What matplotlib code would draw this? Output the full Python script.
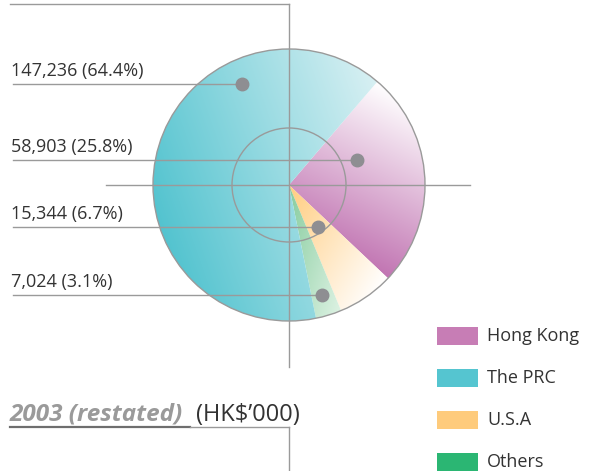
import matplotlib
matplotlib.use('Agg')
import matplotlib.pyplot as plt
from matplotlib.patches import Circle, Rectangle
from matplotlib.colors import to_rgb
import numpy as np

plt.rcParams['font.family'] = ['Open Sans', 'DejaVu Sans']

# data
categories = ['Hong Kong', 'The PRC', 'U.S.A', 'Others']
values = [58903, 147236, 15344, 7024]
legend_colors = ['#C77DB5', '#55C5D0', '#FECB7C', '#2BB673']

# gradient (dark end, light end, direction dark->light in pixel space) for each slice
grad_dark = ['#C174B2', '#52C3CF', '#FFCD80', '#86CC9E']
grad_light = ['#FFFFFF', '#D8F0F3', '#FFFFFF', '#DDF2E3']
grad_dir = [(0.5, -1.0), (1.0, -0.35), (1.0, 0.6), (1.0, 0.3)]

# label order: PRC, Hong Kong, U.S.A, Others
label_order = [1, 0, 2, 3]
label_y = [84, 160, 227, 295]
dot_x = [242, 357, 318, 322]

W, H = 590, 471
cx, cy, R = 289, 185, 136
line_c = '#9A9A9A'
text_c = '#333333'

fig = plt.figure(figsize=(W / 100, H / 100), dpi=100)
ax = fig.add_axes([0, 0, 1, 1])

total = sum(values)
pct = [v / total * 100 for v in values]

# clockwise from upper right: HK, USA, Others, PRC  (y axis is inverted)
pie_order = [0, 2, 3, 1]
wedges, _ = ax.pie([values[i] for i in pie_order], center=(cx, cy), radius=R,
                   startangle=-49.5, counterclock=True, frame=True,
                   wedgeprops=dict(linewidth=0, alpha=0))
ax.set_xlim(0, W)
ax.set_ylim(H, 0)
ax.set_aspect('equal')
ax.axis('off')


def gradient_fill(wedge, dark, light, d):
    x0, x1, y0, y1 = cx - R, cx + R, cy - R, cy + R
    xs = np.linspace(x0, x1, 300)
    ys = np.linspace(y0, y1, 300)
    X, Y = np.meshgrid(xs, ys)
    d = np.array(d) / np.hypot(*d)
    # stretch the gradient over the wedge's own extent
    verts = wedge.get_path().vertices
    proj = verts[:, 0] * d[0] + verts[:, 1] * d[1]
    t = (X * d[0] + Y * d[1] - proj.min()) / (proj.max() - proj.min())
    t = np.clip(t, 0, 1)[..., None]
    c0 = np.array(to_rgb(dark))
    c1 = np.array(to_rgb(light))
    img = c0 * (1 - t) + c1 * t
    im = ax.imshow(img, extent=(x0, x1, y1, y0), origin='upper',
                   interpolation='bilinear', zorder=1)
    im.set_clip_path(wedge)


for w, i in zip(wedges, pie_order):
    gradient_fill(w, grad_dark[i], grad_light[i], grad_dir[i])

ax.add_patch(Circle((cx, cy), R, fill=False, ec=line_c, lw=1.0, zorder=3))
ax.add_patch(Circle((cx, cy), 57, fill=False, ec=line_c, lw=1.0, zorder=3))

# guide lines
ax.plot([10, cx], [4, 4], color=line_c, lw=1.0, zorder=3)
ax.plot([cx, cx], [4, 367], color=line_c, lw=1.0, zorder=3)
ax.plot([106, 470], [cy, cy], color=line_c, lw=1.0, zorder=3)

# value labels with leader lines and dots
for k, i in enumerate(label_order):
    y = label_y[k]
    ax.plot([13, dot_x[k]], [y, y], color=line_c, lw=1.0, zorder=3)
    ax.plot(dot_x[k], y, 'o', ms=9, color='#8E8E92', zorder=4)
    ax.text(11, y - 4, f'{values[i]:,} ({pct[i]:.1f}%)', fontsize=13,
            color=text_c, ha='left', va='bottom', zorder=4)

# legend
for k, name in enumerate(categories):
    top = 327 + k * 42
    ax.add_patch(Rectangle((437, top), 41, 18, color=legend_colors[k], lw=0, zorder=3))
    ax.text(487, top + 9, name, fontsize=13, color=text_c, ha='left', va='center')

# footer title
ax.text(10, 421, '2003 (restated)', fontsize=17.5, color='#9A9A9A',
        fontweight='bold', fontstyle='italic', ha='left', va='baseline')
ax.text(196, 421, "(HK$\u2019000)", fontsize=17, color=text_c, ha='left', va='baseline')
ax.plot([10, 190], [427, 427], color='#6E6E6E', lw=1.6, zorder=3)
ax.plot([190, cx], [427, 427], color=line_c, lw=1.0, zorder=3)
ax.plot([cx, cx], [427, H], color=line_c, lw=1.0, zorder=3)

plt.savefig('out.png', dpi=100)
